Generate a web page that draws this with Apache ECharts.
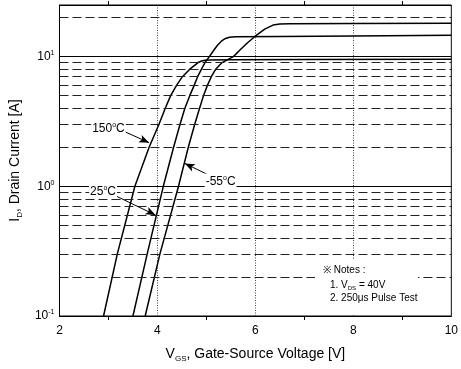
<!DOCTYPE html>
<html><head><meta charset="utf-8">
<script src="https://cdn.jsdelivr.net/npm/echarts@6/dist/echarts.min.js"></script>
<style>html,body{margin:0;padding:0;background:#fff}#c{width:461px;height:369px}</style>
</head><body><div id="c"></div>
<script>
// ---- data ----
const xMin = 2, xMax = 10, xStep = 2;
const yMin = 0.1, yMax = 25;
const yMinorGrid = [0.2,0.3,0.4,0.5,0.6,0.7,0.8,0.9,2,3,4,5,6,7,8,9,20];
const curve150 = [[2.90,0.1],[3.18,0.3],[3.54,1.0],[3.83,2.0],[4.03,3.0],[4.16,4.0],[4.27,5.0],[4.39,6.0],[4.51,7.0],[4.66,8.0],[4.83,9.0],[4.90,9.25],[4.97,9.38],[5.08,9.43],[5.5,9.45],[7,9.5],[10,9.55]];
const curve25 = [[3.50,0.1],[3.79,0.3],[4.12,1.0],[4.33,2.0],[4.46,3.0],[4.56,4.0],[4.66,5.0],[4.75,6.0],[4.82,7.0],[4.90,8.0],[4.97,9.0],[5.06,10],[5.15,11.2],[5.23,12.3],[5.32,13.3],[5.39,13.8],[5.47,14.1],[5.6,14.2],[6.5,14.3],[8,14.4],[10,14.6]];
const curveM55 = [[3.75,0.1],[4.05,0.3],[4.43,1.0],[4.63,2.0],[4.76,3.0],[4.86,4.0],[4.94,5.0],[5.02,6.0],[5.10,7.0],[5.19,8.0],[5.32,9.0],[5.55,10],[5.69,11.3],[5.84,12.8],[5.99,14.3],[6.19,16.3],[6.36,17.5],[6.5,17.85],[6.7,17.95],[8,18],[10,18.1]];
const labelNames = ['150', '25', '-55'];
const labelPos = [[3.00,2.81],[2.89,0.92],[5.29,1.10]];
const arrowFrom = [[3.33,2.64],[3.16,0.84],[5.05,1.22]];
const arrowTo = [[3.83,2.17],[3.96,0.60],[4.56,1.50]];
const notes = ['\u203B Notes :', '1. V{sub|DS} = 40V', '2. 250\u03BCs Pulse Test'];

// ---- chart ----
const FONT = '"Liberation Sans", Arial, sans-serif';
const chart = echarts.init(document.getElementById('c'), null, {renderer:'canvas'});
const subRich = {
  n: {fontSize: 14, lineHeight: 18, verticalAlign: 'middle', fontFamily: FONT, color: '#000'},
  sub: {fontSize: 8, lineHeight: 8, verticalAlign: 'bottom', fontFamily: FONT, color: '#000'}
};
function isDecade(v){ const l = Math.log10(v); return Math.abs(l - Math.round(l)) < 1e-6; }

const lineStyleCurve = {color:'#000', width:1.5};
const option = {
  animation: false,
  backgroundColor: '#fff',
  textStyle: {fontFamily: FONT},
  grid: {left: 55, right: 5, top: 5, bottom: 53, show: true, borderColor: '#000', borderWidth: 1, containLabel: false},
  xAxis: [{
    type: 'value', min: xMin, max: xMax, interval: xStep,
    axisLine: {show: true, lineStyle: {color:'#000'}},
    axisTick: {show: false},
    minorTick: {show: true, splitNumber: 2, length: 4, lineStyle: {color:'#000'}},
    axisLabel: {margin: 9, color:'#000', fontSize: 12, fontFamily: FONT},
    splitLine: {show: true, lineStyle: {color:'#444', type:[1,1.5], width:1}},
    name: '{n|V}{sub|GS}{n|, Gate-Source Voltage [V]}', nameLocation: 'middle', nameGap: 29,
    nameTextStyle: {rich: subRich, fontSize: 14, color:'#000'}
  },{
    type: 'value', min: xMin, max: xMax, interval: xStep, position: 'top',
    axisLine: {show: true, lineStyle: {color:'#000'}},
    axisTick: {show: false},
    minorTick: {show: true, splitNumber: 2, length: 4, lineStyle: {color:'#000'}},
    axisLabel: {show: false}, splitLine: {show: false}
  }],
  yAxis: {
    type: 'log', logBase: 10, min: yMin, max: yMax,
    axisLine: {show: true, lineStyle: {color:'#000'}},
    axisTick: {show: false},
    axisLabel: {
      color:'#000', margin: 5, fontFamily: FONT,
      formatter: v => isDecade(v) ? '{b|10}{s|' + Math.round(Math.log10(v)) + '}' : '',
      rich: {
        b: {fontSize: 12, lineHeight: 14, verticalAlign:'middle', fontFamily: FONT, color:'#000'},
        s: {fontSize: 7, lineHeight: 7, verticalAlign:'top', fontFamily: FONT, color:'#000'}
      }
    },
    splitLine: {show: true, lineStyle: {color:'#000', width: 1, type:'solid'}},
    name: '{n|I}{sub|D}{n|, Drain Current [A]}', nameLocation: 'middle', nameGap: 27, nameRotate: 90,
    nameTextStyle: {rich: subRich, fontSize: 14, color:'#000'}
  },
  series: [
    {
      type: 'line', data: [], silent: true, z: 1,
      markLine: {
        silent: true, symbol: ['none','none'], animation: false,
        label: {show: false},
        lineStyle: {color:'#222', type:[9,4], width:1},
        data: yMinorGrid.map(v => ({yAxis: v}))
      }
    },
    {type:'line', name:'150', data: curve150, showSymbol:false, smooth:false, lineStyle: lineStyleCurve, z: 3},
    {type:'line', name:'25', data: curve25, showSymbol:false, smooth:false, lineStyle: lineStyleCurve, z: 3},
    {type:'line', name:'-55', data: curveM55, showSymbol:false, smooth:false, lineStyle: lineStyleCurve, z: 3},
    {
      type: 'line', data: [], silent: true, z: 6,
      markLine: {
        silent: true, animation: false, label: {show: false},
        symbol: ['none','arrow'], symbolSize: [6, 10],
        lineStyle: {color:'#000', type:'solid', width:1},
        data: arrowFrom.map((p, i) => [{coord: p}, {coord: arrowTo[i]}])
      },
      markPoint: {
        silent: true, animation: false, symbol: 'circle', symbolSize: 1,
        itemStyle: {color: 'rgba(0,0,0,0)'},
        label: {
          show: true, position: 'inside', color:'#000',
          backgroundColor: '#fff', padding: [1, 1, 0, 1],
          formatter: p => '{t|' + p.name + '}{o|o}{t|C}',
          rich: {
            t: {fontSize: 12, lineHeight: 14, verticalAlign:'middle', fontFamily: FONT, color:'#000'},
            o: {fontSize: 7, lineHeight: 7, verticalAlign:'top', fontFamily: FONT, color:'#000'}
          }
        },
        data: labelPos.map((p, i) => ({name: labelNames[i], coord: p}))
      }
    }
  ],
  graphic: [
    {type:'rect', left: 315, top: 260, shape:{width: 103, height: 55}, style:{fill:'#fff'}, z: 50, silent: true},
    {type:'text', left: 323, top: 265, z: 51, style:{text: notes[0], font: '10px ' + FONT, fill:'#000'}},
    {type:'text', left: 330, top: 280, z: 51, style:{text: '{n|1. V}{sub|DS}{n| = 40V}', fill:'#000',
      rich: {n:{fontSize:10, lineHeight:12, verticalAlign:'middle', fontFamily: FONT}, sub:{fontSize:6, lineHeight:6, verticalAlign:'bottom', fontFamily: FONT}}}},
    {type:'text', left: 330, top: 293, z: 51, style:{text: notes[2], font: '10px ' + FONT, fill:'#000'}}
  ]
};
chart.setOption(option);
</script>
</body></html>
